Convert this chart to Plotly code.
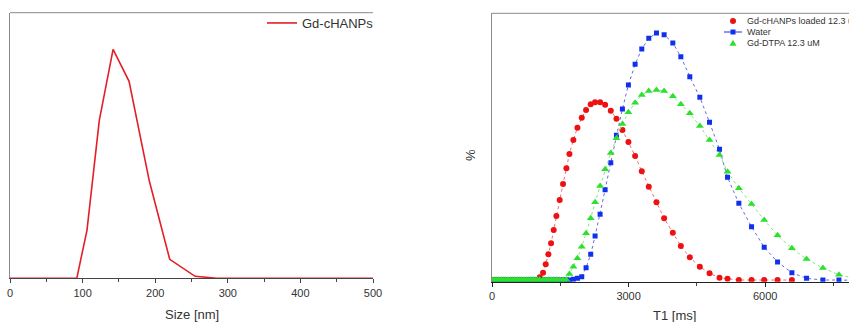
import plotly.graph_objects as go

# ---------------- data: left panel (DLS size distribution) ----------------
size_nm = [0, 92, 106, 123, 142, 164, 192, 220, 255, 285, 500]
size_pct = [0, 0, 4.8, 15.8, 22.9, 19.7, 9.7, 1.9, 0.2, 0, 0]

# ---------------- data: right panel (T1 distributions) ----------------
t1_ms = [0, 50, 100, 150, 200, 250, 300, 350, 400, 450, 500, 550, 600, 650, 700,
         750, 800, 850, 900, 950, 1000,
         1048, 1121, 1180, 1238, 1297, 1355, 1414, 1487, 1560, 1634, 1700, 1787,
         1876, 1971, 2066, 2168, 2264, 2374, 2484, 2608, 2733, 2864, 2996, 3143,
         3289, 3443, 3612, 3780, 3971, 4147, 4344, 4564, 4777, 4996, 5172, 5421,
         5700, 5978, 6271, 6586, 6908, 7267, 7619, 7980]

gd_chanps = [0.5, 0.5, 0.5, 0.5, 0.5, 0.5, 0.5, 0.5, 0.5, 0.5, 0.5,
             0.5, 0.5, 0.5, 0.5, 0.5, 0.5, 0.5, 0.5, 0.5, 0.5,
             1.3, 2.7, 5.2, 8.2, 11.5, 15.5, 19.7, 24.5, 29.3, 34.0, 38.3, 42.5,
             46.2, 49.2, 51.5, 53.2, 53.8, 53.8, 53.1, 51.3, 48.9, 45.5, 41.9, 37.7,
             33.1, 28.5, 23.8, 19.0, 14.7, 10.7, 7.3, 4.5, 2.5, 1.2, 0.9, 0.5,
             0.5, 0.5, 0.5, 0.5, None, None, None, None]

water = [0.5, 0.5, 0.5, 0.5, 0.5, 0.5, 0.5, 0.5, 0.5, 0.5, 0.5,
         0.5, 0.5, 0.5, 0.5, 0.5, 0.5, 0.5, 0.5, 0.5, 0.5,
         0.5, 0.5, 0.5, 0.5, 0.5, 0.5, 0.5, 0.5, 0.5, 0.5, 0.5, 0.7,
         1.0, 1.5, 4.2, 8.2, 13.7, 20.2, 27.6, 35.7, 43.9, 51.8, 59.0, 65.2,
         69.8, 73.0, 74.6, 74.1, 71.6, 67.5, 61.5, 55.3, 47.8, 39.7, 31.3, 23.5,
         16.5, 10.3, 5.9, 2.7, 1.0, 0.5, 0.5, 0.4]

gd_dtpa = [0.6, 0.6, 0.6, 0.6, 0.6, 0.6, 0.6, 0.6, 0.6, 0.6, 0.6,
           0.6, 0.6, 0.6, 0.6, 0.6, 0.6, 0.6, 0.6, 0.6, 0.6,
           0.6, 0.6, 0.6, 0.6, 0.6, 0.6, 0.6, 0.6, 0.6, 0.6, 2.3, 4.5,
           7.0, 10.5, 14.5, 19.0, 23.8, 28.7, 33.7, 38.6, 43.0, 47.3, 50.8, 53.7,
           56.0, 57.2, 57.5, 57.2, 55.6, 53.2, 50.5, 46.7, 42.5, 38.0, 33.0, 28.0,
           23.3, 18.5, 13.9, 10.0, 6.8, 4.1, 2.1, 0.9]

size_ticks = [0, 100, 200, 300, 400, 500]
t1_ticks = [0, 3000, 6000]

W, H = 849, 322
FONT = "Arial, Liberation Sans, sans-serif"
TXT = "#333333"
GRAY = "#8a8a8a"

RED, BLUE, GREEN = "#ee1111", "#1030ee", "#2ee02e"

fig = go.Figure()

fig.add_trace(go.Scatter(x=size_nm, y=size_pct, mode="lines", name="Gd-cHANPs",
                         line=dict(color="#e41e26", width=1.6),
                         xaxis="x", yaxis="y", legend="legend"))

fig.add_trace(go.Scatter(x=t1_ms, y=gd_chanps, mode="lines+markers",
                         name="Gd-cHANPs loaded 12.3 uM", showlegend=False,
                         line=dict(color="#f06a6a", width=1, dash="dot"),
                         marker=dict(symbol="circle", size=6, color=RED),
                         xaxis="x2", yaxis="y2"))
fig.add_trace(go.Scatter(x=t1_ms, y=water, mode="lines+markers",
                         name="Water", showlegend=False,
                         line=dict(color="#6a6ae0", width=1, dash="dot"),
                         marker=dict(symbol="square", size=5, color=BLUE),
                         xaxis="x2", yaxis="y2"))
fig.add_trace(go.Scatter(x=t1_ms, y=gd_dtpa, mode="lines+markers",
                         name="Gd-DTPA 12.3 uM", showlegend=False,
                         line=dict(color="#80e880", width=1, dash="dot"),
                         marker=dict(symbol="triangle-up", size=7, color=GREEN),
                         xaxis="x2", yaxis="y2"))

xl = [10 / W, 373 / W]
yl = [(H - 278.3) / H, (H - 12.7) / H]
xr = [492 / W, 1.0]
yr = [(H - 281.7) / H, (H - 13.3) / H]

tickfont = dict(family=FONT, size=11, color=TXT)

fig.update_layout(
    width=W, height=H, margin=dict(l=0, r=0, t=0, b=0),
    paper_bgcolor="white", plot_bgcolor="white",
    showlegend=True,
    xaxis=dict(domain=xl, range=[0, 500], tickvals=size_ticks, ticks="outside",
               ticklen=4, tickcolor="#444", tickwidth=1,
               minor=dict(dtick=50, ticks="outside", ticklen=3, tickcolor="#444"),
               showline=True, linecolor="#444", linewidth=1, showgrid=False,
               zeroline=False, tickfont=tickfont, automargin=False, anchor="y"),
    yaxis=dict(domain=yl, range=[0, 26.56], showticklabels=False, ticks="",
               showline=True, linecolor=GRAY, linewidth=1, showgrid=False,
               zeroline=False, automargin=False, anchor="x"),
    xaxis2=dict(domain=xr, range=[0, 7840], tickvals=t1_ticks, ticks="outside",
                ticklen=4, tickcolor="#222", tickwidth=1,
                minor=dict(dtick=1500, ticks="outside", ticklen=3, tickcolor="#444"),
                showline=True, linecolor="#222", linewidth=1, showgrid=False,
                zeroline=False, tickfont=tickfont, automargin=False, anchor="y2"),
    yaxis2=dict(domain=yr, range=[0, 80.5], showticklabels=False, ticks="",
                showline=True, linecolor=GRAY, linewidth=1, showgrid=False,
                zeroline=False, automargin=False, anchor="x2"),
    legend=dict(x=262 / W, y=1 - 8 / H, xanchor="left", yanchor="top",
                bgcolor="rgba(0,0,0,0)", borderwidth=0,
                font=dict(family=FONT, size=13, color=TXT)),
)

# top borders of both frames
for xref, yref in (("x domain", "y domain"), ("x2 domain", "y2 domain")):
    fig.add_shape(type="line", xref=xref, yref=yref, x0=0, x1=1, y0=1, y1=1,
                  line=dict(color=GRAY, width=1))

# axis titles
fig.add_annotation(text="Size [nm]", xref="paper", yref="paper",
                   x=(xl[0] + xl[1]) / 2, y=1 - 314 / H, showarrow=False,
                   xanchor="center", yanchor="middle",
                   font=dict(family=FONT, size=13, color=TXT))
fig.add_annotation(text="T1 [ms]", xref="paper", yref="paper",
                   x=674 / W, y=1 - 315 / H, showarrow=False,
                   xanchor="center", yanchor="middle",
                   font=dict(family=FONT, size=13, color=TXT))
fig.add_annotation(text="%", xref="paper", yref="paper",
                   x=470 / W, y=1 - 155 / H, showarrow=False, textangle=-90,
                   xanchor="center", yanchor="middle",
                   font=dict(family=FONT, size=13, color=TXT))

# manual legend for the right panel (it runs off the right edge, as in the original)
leg_items = [("Gd-cHANPs loaded 12.3 uM", RED, "circle", 21),
             ("Water", BLUE, "square", 32),
             ("Gd-DTPA 12.3 uM", GREEN, "triangle", 43)]
sx = 733 / W
for label, col, sym, py in leg_items:
    yy = 1 - py / H
    if sym == "square":
        fig.add_shape(type="line", xref="paper", yref="paper", xsizemode="pixel",
                      ysizemode="pixel", xanchor=sx, yanchor=yy,
                      x0=-9, x1=9, y0=0, y1=0, line=dict(color=col, width=1))
        fig.add_shape(type="rect", xref="paper", yref="paper", xsizemode="pixel",
                      ysizemode="pixel", xanchor=sx, yanchor=yy,
                      x0=-2.5, x1=2.5, y0=-2.5, y1=2.5, fillcolor=col,
                      line=dict(width=0))
    elif sym == "circle":
        fig.add_shape(type="circle", xref="paper", yref="paper", xsizemode="pixel",
                      ysizemode="pixel", xanchor=sx, yanchor=yy,
                      x0=-3, x1=3, y0=-3, y1=3, fillcolor=col, line=dict(width=0))
    else:
        fig.add_shape(type="path", xref="paper", yref="paper", xsizemode="pixel",
                      ysizemode="pixel", xanchor=sx, yanchor=yy,
                      path="M-3.5,-2.8 L3.5,-2.8 L0,3.2 Z", fillcolor=col,
                      line=dict(width=0))
    fig.add_annotation(text=label, xref="paper", yref="paper", x=745 / W, y=yy,
                       showarrow=False, xanchor="left", yanchor="middle",
                       font=dict(family=FONT, size=9, color=TXT))

fig.write_html("out.html",
               config={"displayModeBar": False},
               post_script="document.body.style.margin='0';"
                           "document.body.style.padding='0';")
